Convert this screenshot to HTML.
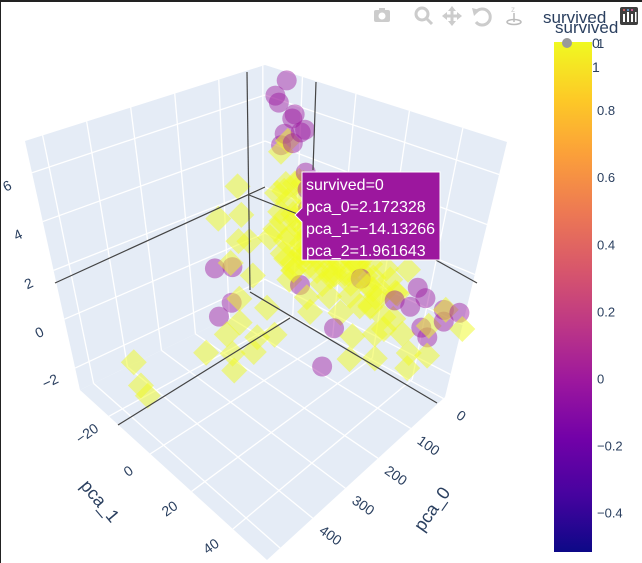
<!DOCTYPE html>
<html><head><meta charset="utf-8"><style>
html,body{margin:0;padding:0;background:#fff;}
#wrap{position:relative;width:642px;height:563px;overflow:hidden;border-top:2px solid #222;border-left:1px solid #222;box-sizing:border-box;}
svg text{font-family:"Liberation Sans",sans-serif;}
</style></head><body>
<div id="wrap">
<svg id="chart" width="642" height="563" viewBox="0 0 642 563" style="position:absolute;left:-1px;top:-2px">
 <g id="scene"></g>
 <g id="marks"></g>
 <g id="spikes" stroke="#444" stroke-width="1.2" fill="none">
  <line x1="247" y1="72" x2="250" y2="290"/>
  <line x1="316" y1="82" x2="313" y2="170"/>
  <line x1="55" y1="283" x2="265" y2="187"/>
  <line x1="249" y1="195" x2="300" y2="215"/>
  <line x1="118" y1="425" x2="290" y2="318"/>
  <line x1="250" y1="292" x2="437" y2="403"/>
  <line x1="400" y1="240" x2="477" y2="283"/>
 </g>
 <g id="tooltip">
  <path d="M302,172 H440 V260 H302 V222 L295,215 L302,208 Z" fill="#9c179e" stroke="#fff" stroke-width="1"/>
  <text x="306" y="190" fill="#fff" font-size="16">survived=0</text>
  <text x="306" y="212" fill="#fff" font-size="16">pca_0=2.172328</text>
  <text x="306" y="234" fill="#fff" font-size="16">pca_1=−14.13266</text>
  <text x="306" y="256" fill="#fff" font-size="16">pca_2=1.961643</text>
 </g>
 <g id="colorbar"></g>
 <g id="legend">
  <text x="543" y="23" font-size="17" fill="#2a3f5f">survived</text>
  <circle cx="567" cy="43" r="5" fill="#999"/>
  <text x="592" y="48" font-size="14" fill="#2a3f5f">0</text>
  <text x="592" y="72" font-size="14" fill="#2a3f5f">1</text>
  <text x="555" y="33" font-size="17" fill="#2a3f5f">survived</text>
 </g>
 <g id="modebar" fill="#ccc">
  <g><rect x="374" y="10" width="16" height="12" rx="2"/><circle cx="382" cy="16" r="3.5" fill="#fff"/><rect x="379" y="8" width="6" height="3"/></g>
  <g><circle cx="422" cy="14" r="6" fill="none" stroke="#ccc" stroke-width="3"/><line x1="426" y1="18" x2="432" y2="24" stroke="#ccc" stroke-width="3"/></g>
  <g><path d="M452,6 L456,11 H453.5 V14.5 H457 V12 L462,16 L457,20 V17.5 H453.5 V21 H456 L452,26 L448,21 H450.5 V17.5 H447 V20 L442,16 L447,12 V14.5 H450.5 V11 H448 Z"/></g>
  <g><path d="M476,12 A8,8 0 1 1 476,22" fill="none" stroke="#ccc" stroke-width="3"/><path d="M472,8 L480,10 L474,16 Z"/></g>
  <g><text x="511" y="12" font-size="8" fill="#ccc">z</text><line x1="514" y1="13" x2="514" y2="22" stroke="#bbb" stroke-width="1.5"/><ellipse cx="514" cy="22" rx="7" ry="2.5" fill="none" stroke="#bbb" stroke-width="1.5"/></g>
  <g><rect x="620" y="7" width="18" height="18" rx="2" fill="#3f3f3f"/>
   <rect x="623" y="14" width="2" height="8" fill="#fff"/><rect x="627" y="12" width="2" height="10" fill="#fff"/><rect x="631" y="14" width="2" height="8" fill="#fff"/><rect x="635" y="12" width="1.5" height="10" fill="#fff"/>
   <circle cx="624" cy="10" r="1" fill="#e66"/><circle cx="628" cy="10" r="1" fill="#6ae"/><circle cx="632" cy="10" r="1" fill="#e6a"/></g>
 </g>
</svg>
</div>
<script>
// ---- data ----
const yP0 = [5,10,5,15,20,10,25,8,12,30,15,20,5,35,18,10,25,40,15,30,20,45,50,60,8,12,6,22,28,35,16,40,10,12,30,50,70,45,55,35,20,60,25,5,10,15,3,4,2,6,3,18,25,8,12,0,32,14,100,110,90,130,120,100,140,150,180,200,160,220,140,250,200,240,120,440,430,445,60,70,40,
 0,10,20,0,10,20,30,0,10,20,40,0,10,30,0,15,30,5,20,2,7,12,17,22,27,9,4,14,33,38,6,11,24,3,16,26,
 5,10,15,20,5,25,3,12,8,18,30,6,2,22,40,35];
const yP1 = [-20,-15,-18,-12,-10,-8,-5,-3,0,2,5,8,10,12,15,18,20,22,25,28,30,-2,5,-10,-22,-16,-12,-6,0,6,12,16,-25,-22,-15,-5,0,10,18,25,35,30,40,58,50,45,-5,0,5,-10,-20,-2,10,22,28,30,-8,-14,-28,-25,-30,-27,-20,-22,-30,-20,-15,-18,-10,-12,-5,-20,-5,-8,-12,-20,-24,-16,45,20,50,
 -15,-15,-15,-8,-8,-8,-8,0,0,0,0,8,8,8,16,16,16,24,24,-2,3,-11,6,12,-3,14,-6,20,4,-6,28,-18,-12,12,-4,18,
 -25,-22,-24,-20,-14,-18,-28,-26,-19,-22,-20,-16,-24,-14,-15,-25];
const yP2 = [1.5,2.5,3,1,0.5,1.5,0.8,1.2,0.5,0,1,0.3,0.8,-0.3,0.5,0,-0.5,-0.2,-0.8,-1,-0.6,0.2,-0.5,0,2,1.8,2.2,1.6,1.2,0.9,1.4,0.6,4,4.6,-0.5,-1,-1.2,-1,-1.5,-1.3,-1,-1.8,-1.5,0,0.5,-0.3,2.5,2,1.8,3.2,2.8,0,1,1,0.3,1.2,0.4,0.2,3,2,0.5,0,1.2,-0.5,1.8,-1,-1.5,-2,-2,-2.3,-1.8,-2.5,-2,-2.6,-1.2,-2.4,-1.8,-2.5,-1.5,-2.2,-1,
 1,0.5,1.2,0.8,0.2,1,0,1,0,0.8,-0.3,0.5,-0.2,0.4,0.3,1,-0.6,0.6,0.2,1.5,1.3,1.6,1.8,0.9,1.7,1.9,0.3,-0.2,0.2,0.8,0.2,1.4,2,1.6,2.1,0.3,
 1,0.3,1.5,-0.3,0,0.8,0.5,2.2,-0.5,2.5,0,3,2.6,0.2,-0.8,0.5];
const pP0 = [0,5,3,0,8,2,6,4,10,1,150,120,160,180,100,10,5,15,0,20,8,12,25,3,15,10,20,30,5,40,60,8,2.172328];
const pP1 = [-25,-27,-22,-19,-24,-17,-21,-26,-20,-29,-31,-28,-22,-25,12,35,40,42,48,38,50,45,30,55,-5,5,-12,15,20,-10,10,-15,-14.13266];
const pP2 = [7,6,5.5,5,4.8,5.2,4.5,4.2,5.8,6.2,-0.3,-0.3,-1.2,-1.8,-2.6,0,0.5,-0.5,0.3,1,0,-0.8,0.2,0.5,2,1.5,3,0.5,2,-0.8,-1.5,3.5,1.961643];
const p0Ticks = [0,100,200,300,400,500];
const p1Ticks = [-20,0,20,40];
const zTicks = [-2,0,2,4,6];
const cbTicks = [1,0.8,0.6,0.4,0.2,0,-0.2,-0.4];
const cbTickLabels = ["1","0.8","0.6","0.4","0.2","0","−0.2","−0.4"];

// ---- axes / projection ----
const R0=[-5,540], R1=[-34,56.5], R2=[-2.9,7.3];
const FB=[265,300],FL=[80,390],FF=[267,560],FR=[445,397];
const TB=[265,65],TL=[25,141],TF=[267,290],TR=[507,142];
function bil(B,L,F,R,u,v){return [0,1].map(i=>B[i]+u*(L[i]-B[i])+v*(R[i]-B[i])+u*v*(F[i]-L[i]-R[i]+B[i]));}
function proj(a,b,c){
  const u=(a-R0[0])/(R0[1]-R0[0]), v=(b-R1[0])/(R1[1]-R1[0]), w=(c-R2[0])/(R2[1]-R2[0]);
  const f=bil(FB,FL,FF,FR,u,v), t=bil(TB,TL,TF,TR,u,v);
  return [f[0]+w*(t[0]-f[0]), f[1]+w*(t[1]-f[1]), u+v];
}
const NS="http://www.w3.org/2000/svg";
function mk(tag,attrs,parent){const e=document.createElementNS(NS,tag);for(const k in attrs)e.setAttribute(k,attrs[k]);parent.appendChild(e);return e;}
const scene=document.getElementById('scene');
function poly(pts){return pts.map(p=>p[0].toFixed(1)+','+p[1].toFixed(1)).join(' ');}
const lw=mk('polygon',{points:poly([proj(R0[0],R1[0],R2[0]),proj(R0[1],R1[0],R2[0]),proj(R0[1],R1[0],R2[1]),proj(R0[0],R1[0],R2[1])]),fill:'#e5ecf6'},scene);


const rw=mk('polygon',{points:poly([proj(R0[0],R1[0],R2[0]),proj(R0[0],R1[1],R2[0]),proj(R0[0],R1[1],R2[1]),proj(R0[0],R1[0],R2[1])]),fill:'#e5ecf6'},scene);


const fl=mk('polygon',{points:poly([proj(R0[0],R1[0],R2[0]),proj(R0[1],R1[0],R2[0]),proj(R0[1],R1[1],R2[0]),proj(R0[0],R1[1],R2[0])]),fill:'#e5ecf6'},scene);


const grid=mk('g',{stroke:'#fff','stroke-width':1.3},scene);


function gl(a,b){mk('line',{x1:a[0],y1:a[1],x2:b[0],y2:b[1]},grid);}
zTicks.forEach(z=>{gl(proj(R0[0],R1[0],z),proj(R0[1],R1[0],z));gl(proj(R0[0],R1[0],z),proj(R0[0],R1[1],z));});
p0Ticks.forEach(t=>{if(t>R0[1])return;gl(proj(t,R1[0],R2[0]),proj(t,R1[0],R2[1]));gl(proj(t,R1[0],R2[0]),proj(t,R1[1],R2[0]));});
p1Ticks.forEach(t=>{gl(proj(R0[0],t,R2[0]),proj(R0[0],t,R2[1]));gl(proj(R0[0],t,R2[0]),proj(R0[1],t,R2[0]));});
const lab=mk('g',{fill:'#2a3f5f','font-size':14,'text-anchor':'middle'},scene);


p0Ticks.forEach(t=>{if(t>450)return;const p=proj(t,R1[1],R2[0]);const x=p[0]+18,y=p[1]+17;
  const e=mk('text',{x:x,y:y+5,transform:`rotate(35 ${x} ${y})`},lab);e.textContent=String(t);
  
  });
p1Ticks.forEach(t=>{const p=proj(R0[1],t,R2[0]);const x=p[0]-22,y=p[1]+17;
  const e=mk('text',{x:x,y:y+5,transform:`rotate(-35 ${x} ${y})`},lab);e.textContent=String(t).replace('-','−');
  
  });
zTicks.forEach(t=>{const p=proj(R0[1],R1[0],t);const x=p[0]-25,y=p[1]+13;
  const e=mk('text',{x:x,y:y+5,transform:`rotate(-25 ${x} ${y})`},lab);e.textContent=String(t).replace('-','−');
  
  });
const t0=mk('text',{x:432,y:515,transform:'rotate(-55 432 509)','font-size':18},lab);t0.textContent='pca_0';


const t1=mk('text',{x:100,y:507,transform:'rotate(50 100 501)','font-size':18},lab);t1.textContent='pca_1';



// markers
const marks=document.getElementById('marks');
const pts=[];
yP0.forEach((v,i)=>{const p=proj(v,yP1[i],yP2[i]);pts.push({p:p,s:1});});
pP0.forEach((v,i)=>{const p=proj(v,pP1[i],pP2[i]);pts.push({p:p,s:0});});
pts.sort((a,b)=>a.p[2]-b.p[2]);
pts.forEach(o=>{
  const [x,y]=o.p;
  if(o.s===1){
    const e=mk('polygon',{points:`${x},${y-13} ${x+13},${y} ${x},${y+13} ${x-13},${y}`,fill:'#f0f921','fill-opacity':0.5},marks);
    
    
  } else {
    const e=mk('circle',{cx:x,cy:y,r:10,fill:'#9c179e','fill-opacity':0.45},marks);
    
    
  }
});

// colorbar
const cb=document.getElementById('colorbar');
const defs=mk('defs',{},cb);
const lg=mk('linearGradient',{id:'plasma',x1:0,y1:1,x2:0,y2:0},defs);
['#0d0887','#46039f','#7201a8','#9c179e','#bd3786','#d8576b','#ed7953','#fb9f3a','#fdca26','#f0f921'].forEach((c,i,a)=>mk('stop',{offset:i/(a.length-1),'stop-color':c},lg));
const CB_TOP=42,CB_BOT=552,CB_MAX=1.0,CB_MIN=-0.52;
const cbr=mk('rect',{x:554,y:CB_TOP,width:38,height:CB_BOT-CB_TOP,fill:'url(#plasma)'},cb);


function cbY(v){return CB_TOP+(CB_MAX-v)/(CB_MAX-CB_MIN)*(CB_BOT-CB_TOP)+1;}
cbTicks.forEach((v,i)=>{
  const e=mk('text',{x:597,y:cbY(v)+5,'font-size':13,fill:'#2a3f5f'},cb);
  e.textContent=cbTickLabels[i];
  
  
});
</script>
</body></html>
